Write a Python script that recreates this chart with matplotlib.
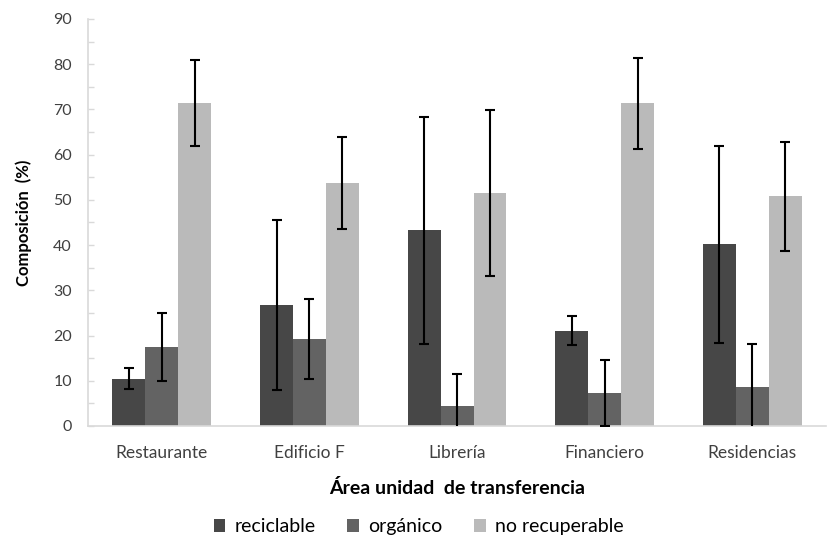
import matplotlib
matplotlib.use("Agg")
import matplotlib.pyplot as plt
import numpy as np

plt.rcParams['font.family'] = ['Lato', 'DejaVu Sans']

categories = ["Restaurante", "Edificio F", "Librería", "Financiero", "Residencias"]
series_names = ["reciclable", "orgánico", "no recuperable"]
reciclable = [10.5, 26.8, 43.3, 21.1, 40.2]
organico = [17.5, 19.3, 4.4, 7.3, 8.7]
no_recuperable = [71.4, 53.7, 51.5, 71.4, 50.8]
err_reciclable = [2.35, 18.75, 25.1, 3.2, 21.75]
err_organico = [7.45, 8.85, 7.0, 7.2, 9.5]
err_no_recuperable = [9.55, 10.1, 18.4, 10.05, 12.0]
yticks = [0, 10, 20, 30, 40, 50, 60, 70, 80, 90]
yminor = [5, 15, 25, 35, 45, 55, 65, 75, 85]

colors = ["#474747", "#636363", "#bababa"]
values = [reciclable, organico, no_recuperable]
errors = [err_reciclable, err_organico, err_no_recuperable]

fig = plt.figure(figsize=(8.27, 5.41), dpi=100)
ax = fig.add_axes([0.1064, 0.2126, 0.8926, 0.7523])

x = np.arange(len(categories))
w = 0.223
for i, (vals, errs, c, name) in enumerate(zip(values, errors, colors, series_names)):
    ax.bar(x + (i - 1) * w, vals, w, color=c, label=name, zorder=2)
    ax.errorbar(x + (i - 1) * w, vals, yerr=errs, fmt='none', ecolor='black',
                elinewidth=1.5, capsize=3.8, capthick=1.5, zorder=3)

ax.set_xlim(-0.5, len(categories) - 0.5)
ax.set_ylim(0, 90)
ax.set_yticks(yticks)
ax.set_yticks(yminor, minor=True)
ax.set_xticks(x)
ax.set_xticklabels(categories, fontsize=12.5, color='#404040')
ax.tick_params(axis='y', which='both', labelsize=11.5, labelcolor='#404040', color='#d9d9d9',
               length=4, direction='in', pad=11.5, width=1)
ax.tick_params(axis='x', length=0, pad=14)
for s in ['top', 'right']:
    ax.spines[s].set_visible(False)
for s in ['left', 'bottom']:
    ax.spines[s].set_color('#d9d9d9')
    ax.spines[s].set_linewidth(1.2)

ax.set_ylabel("Composición  (%)", fontsize=12, fontweight='bold', labelpad=15)
ax.set_xlabel("Área unidad  de transferencia", fontsize=14, fontweight='bold', labelpad=13)

ax.legend(loc='center', bbox_to_anchor=(0.448, -0.248), ncol=3, frameon=False,
          fontsize=14, handlelength=0.6, handleheight=0.6, handletextpad=0.5,
          columnspacing=1.6)

fig.savefig("out.png", dpi=100)
